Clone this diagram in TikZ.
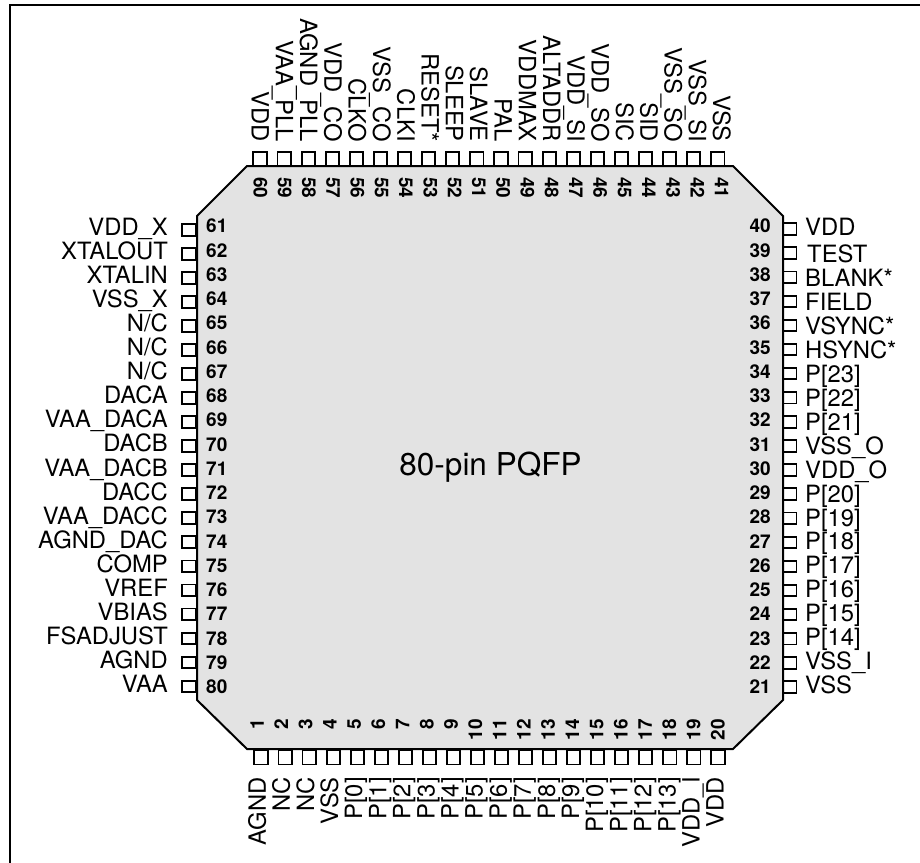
\documentclass[tikz,border=0pt]{standalone}
\usepackage{fontspec}
\setmainfont{TeX Gyre Heros}
\newcommand{\notconn}{N/C}
\newcommand{\testlab}{\hspace{2pt}TEST}
\tikzset{
  lab/.style={inner sep=0pt,font=\fontsize{23.8}{25}\selectfont,text height=17pt,text depth=0pt},
  num/.style={inner sep=0pt,font=\fontsize{19}{21}\selectfont\bfseries,text height=13.5pt,text depth=0pt},
  vpin/.style={draw=black,line width=1.9pt,fill=white,inner sep=0pt,minimum width=13.2pt,minimum height=14pt},
  hpin/.style={draw=black,line width=1.9pt,fill=white,inner sep=0pt,minimum width=14pt,minimum height=11.5pt},
  body/.style={draw=black,line width=2pt,fill=black!11,line join=miter},
  frameline/.style={draw=black,line width=2pt}
}
\begin{document}
\begin{tikzpicture}[x=1pt,y=-1pt]
\useasboundingbox (0,0) rectangle (920,862);
\coordinate (fa) at (10,870);
\coordinate (fb) at (10,5);
\coordinate (fc) at (930,5);
\draw[frameline] (fa) -- (fb) -- (fc);
% top
\foreach \i/\n/\t in {0/60/VDD,1/59/VAA\_PLL,2/58/AGND\_PLL,3/57/VDD\_CO,4/56/CLKO,5/55/VSS\_CO,6/54/CLKI,7/53/RESET*,8/52/SLEEP,9/51/SLAVE,10/50/PAL,11/49/VDDMAX,12/48/ALTADDR,13/47/VDD\_SI,14/46/VDD\_SO,15/45/SIC,16/44/SID,17/43/VSS\_SO,18/42/VSS\_SI,19/41/VSS}{
  \pgfmathsetmacro\px{260+24.1*\i}
  \pgfmathsetmacro\lx{260+24.3*\i}
  \node[vpin] (p\n) at (\px,159) {};
  \node[lab,rotate=-90,anchor=east] (l\n) at (\lx,142) {\t};
}
% bottom
\foreach \i/\n/\t in {0/1/AGND,1/2/NC,2/3/NC,3/4/VSS,4/5/P[0],5/6/P[1],6/7/P[2],7/8/P[3],8/9/P[4],9/10/P[5],10/11/P[6],11/12/P[7],12/13/P[8],13/14/P[9],14/15/P[10],15/16/P[11],16/17/P[12],17/18/P[13],18/19/VDD\_I,19/20/VDD}{
  \pgfmathsetmacro\px{261+24.05*\i}
  \pgfmathsetmacro\lx{257.3+24.1*\i}
  \node[vpin] (p\n) at (\px,757.5) {};
  \node[lab,rotate=90,anchor=east] (l\n) at (\lx,777) {\t};
}
% left
\foreach \i/\n/\t in {0/61/VDD\_X,1/62/XTALOUT,2/63/XTALIN,3/64/VSS\_X,4/65/\notconn,5/66/\notconn,6/67/\notconn,7/68/DACA,8/69/VAA\_DACA,9/70/DACB,10/71/VAA\_DACB,11/72/DACC,12/73/VAA\_DACC,13/74/AGND\_DAC,14/75/COMP,15/76/VREF,16/77/VBIAS,17/78/FSADJUST,18/79/AGND,19/80/VAA}{
  \pgfmathsetmacro\py{229.8+24.03*\i}
  \pgfmathsetmacro\ly{227+24.05*\i}
  \node[hpin] (p\n) at (189,\py) {};
  \node[lab,anchor=east] (l\n) at (168,\ly) {\t};
}
% right
\foreach \i/\n/\t in {0/40/VDD,1/39/\testlab,2/38/BLANK*,3/37/FIELD,4/36/VSYNC*,5/35/HSYNC*,6/34/P[23],7/33/P[22],8/32/P[21],9/31/VSS\_O,10/30/VDD\_O,11/29/P[20],12/28/P[19],13/27/P[18],14/26/P[17],15/25/P[16],16/24/P[15],17/23/P[14],18/22/VSS\_I,19/21/VSS}{
  \pgfmathsetmacro\py{229+24.1*\i}
  \pgfmathsetmacro\ly{\i==0 ? 226.7 : 254.3+23.93*(\i-1)}
  \node[hpin] (p\n) at (789.5,\py) {};
  \node[lab,anchor=west] (l\n) at (805,\ly) {\t};
}
% body
\draw[body] (247,166) -- (733,166) -- (783,216) -- (783,700) -- (733,749) -- (247,749) -- (197,700) -- (197,216) -- cycle;
% pin numbers
\foreach \i/\n in {0/60,1/59,2/58,3/57,4/56,5/55,6/54,7/53,8/52,9/51,10/50,11/49,12/48,13/47,14/46,15/45,16/44,17/43,18/42,19/41}{
  \pgfmathsetmacro\px{260.3+24.28*\i}
  \node[num,rotate=-90,anchor=west] (n\n) at (\px,177) {\n};
}
\foreach \i/\n in {0/1,1/2,2/3,3/4,4/5,5/6,6/7,7/8,8/9,9/10,10/11,11/12,12/13,13/14,14/15,15/16,16/17,17/18,18/19,19/20}{
  \pgfmathsetmacro\px{257+24.25*\i}
  \node[num,rotate=90,anchor=east] (n\n) at (\px,719) {\n};
}
\foreach \i/\n in {0/61,1/62,2/63,3/64,4/65,5/66,6/67,7/68,8/69,9/70,10/71,11/72,12/73,13/74,14/75,15/76,16/77,17/78,18/79,19/80}{
  \pgfmathsetmacro\py{226+24.26*\i}
  \node[num,anchor=west] (n\n) at (206,\py) {\n};
}
\foreach \i/\n in {0/40,1/39,2/38,3/37,4/36,5/35,6/34,7/33,8/32,9/31,10/30,11/29,12/28,13/27,14/26,15/25,16/24,17/23,18/22,19/21}{
  \pgfmathsetmacro\py{226+24.26*\i}
  \node[num,anchor=east] (n\n) at (771,\py) {\n};
}
\node[inner sep=0pt,font=\fontsize{31.5}{34}\selectfont,anchor=base] (title) at (490.5,475) {80-pin PQFP};
\end{tikzpicture}
\end{document}
